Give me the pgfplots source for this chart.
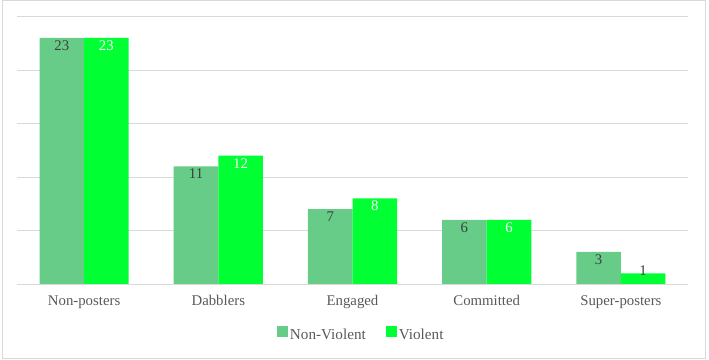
\documentclass[border=0pt]{standalone}
\usepackage{pgfplots}
\pgfplotsset{compat=1.18}
\usepackage{fontspec}
\setmainfont{Liberation Serif}
\definecolor{nonv}{RGB}{102,204,136}
\definecolor{viol}{RGB}{0,255,51}
\definecolor{labgray}{RGB}{64,64,64}
\definecolor{txtgray}{RGB}{89,89,89}
\definecolor{gridgray}{RGB}{217,217,217}
\begin{document}
\begin{tikzpicture}
\path[use as bounding box] (0,0) rectangle (709bp,360bp);
\draw[gridgray, line width=0.75bp] (2bp,2bp) rectangle (705bp,359.5bp);
\begin{axis}[
  at={(17bp,76bp)}, anchor=south west,
  scale only axis, width=671bp, height=267.5bp,
  xmin=-0.5, xmax=4.5, ymin=0, ymax=25,
  ybar=0pt, bar width=0.332,
  xtick={0,...,4},
  xticklabels={Non-posters,Dabblers,Engaged,Committed,Super-posters},
  ytick={0,5,...,25}, yticklabels={},
  ymajorgrids, grid style={gridgray, line width=0.75bp},
  axis line style={draw=none}, major tick length=0pt,
  tick label style={font=\fontsize{14.8bp}{17bp}\selectfont, text=txtgray},
  xticklabel style={yshift=-8bp},
  /pgf/number format/assume math mode=true,
  every node near coord/.append style={anchor=north, font=\fontsize{14.8bp}{17bp}\selectfont, inner sep=2.5bp},
  legend columns=2,
  legend style={at={(0.513,-0.187)}, anchor=center, draw=none, fill=none,
    font=\fontsize{15.2bp}{17bp}\selectfont, text=txtgray,
    /tikz/every even column/.append style={column sep=18bp}},
  legend image code/.code={\fill[#1] (0bp,-2bp) rectangle (11bp,9bp);},
]
\addplot[fill=nonv, draw=none, nodes near coords,
  every node near coord/.append style={text=labgray}]
  coordinates {(0,23) (1,11) (2,7) (3,6) (4,3)};
\addplot[fill=viol, draw=none,
  nodes near coords={\ifnum\coordindex=4 \textcolor{labgray}{\raisebox{11bp}[0.7em][0pt]{\pgfmathprintnumber\pgfplotspointmeta}}\else\pgfmathprintnumber\pgfplotspointmeta\fi},
  every node near coord/.append style={text=white}]
  coordinates {(0,23) (1,12) (2,8) (3,6) (4,1)};
\legend{Non-Violent, Violent}
\end{axis}
\end{tikzpicture}
\end{document}
